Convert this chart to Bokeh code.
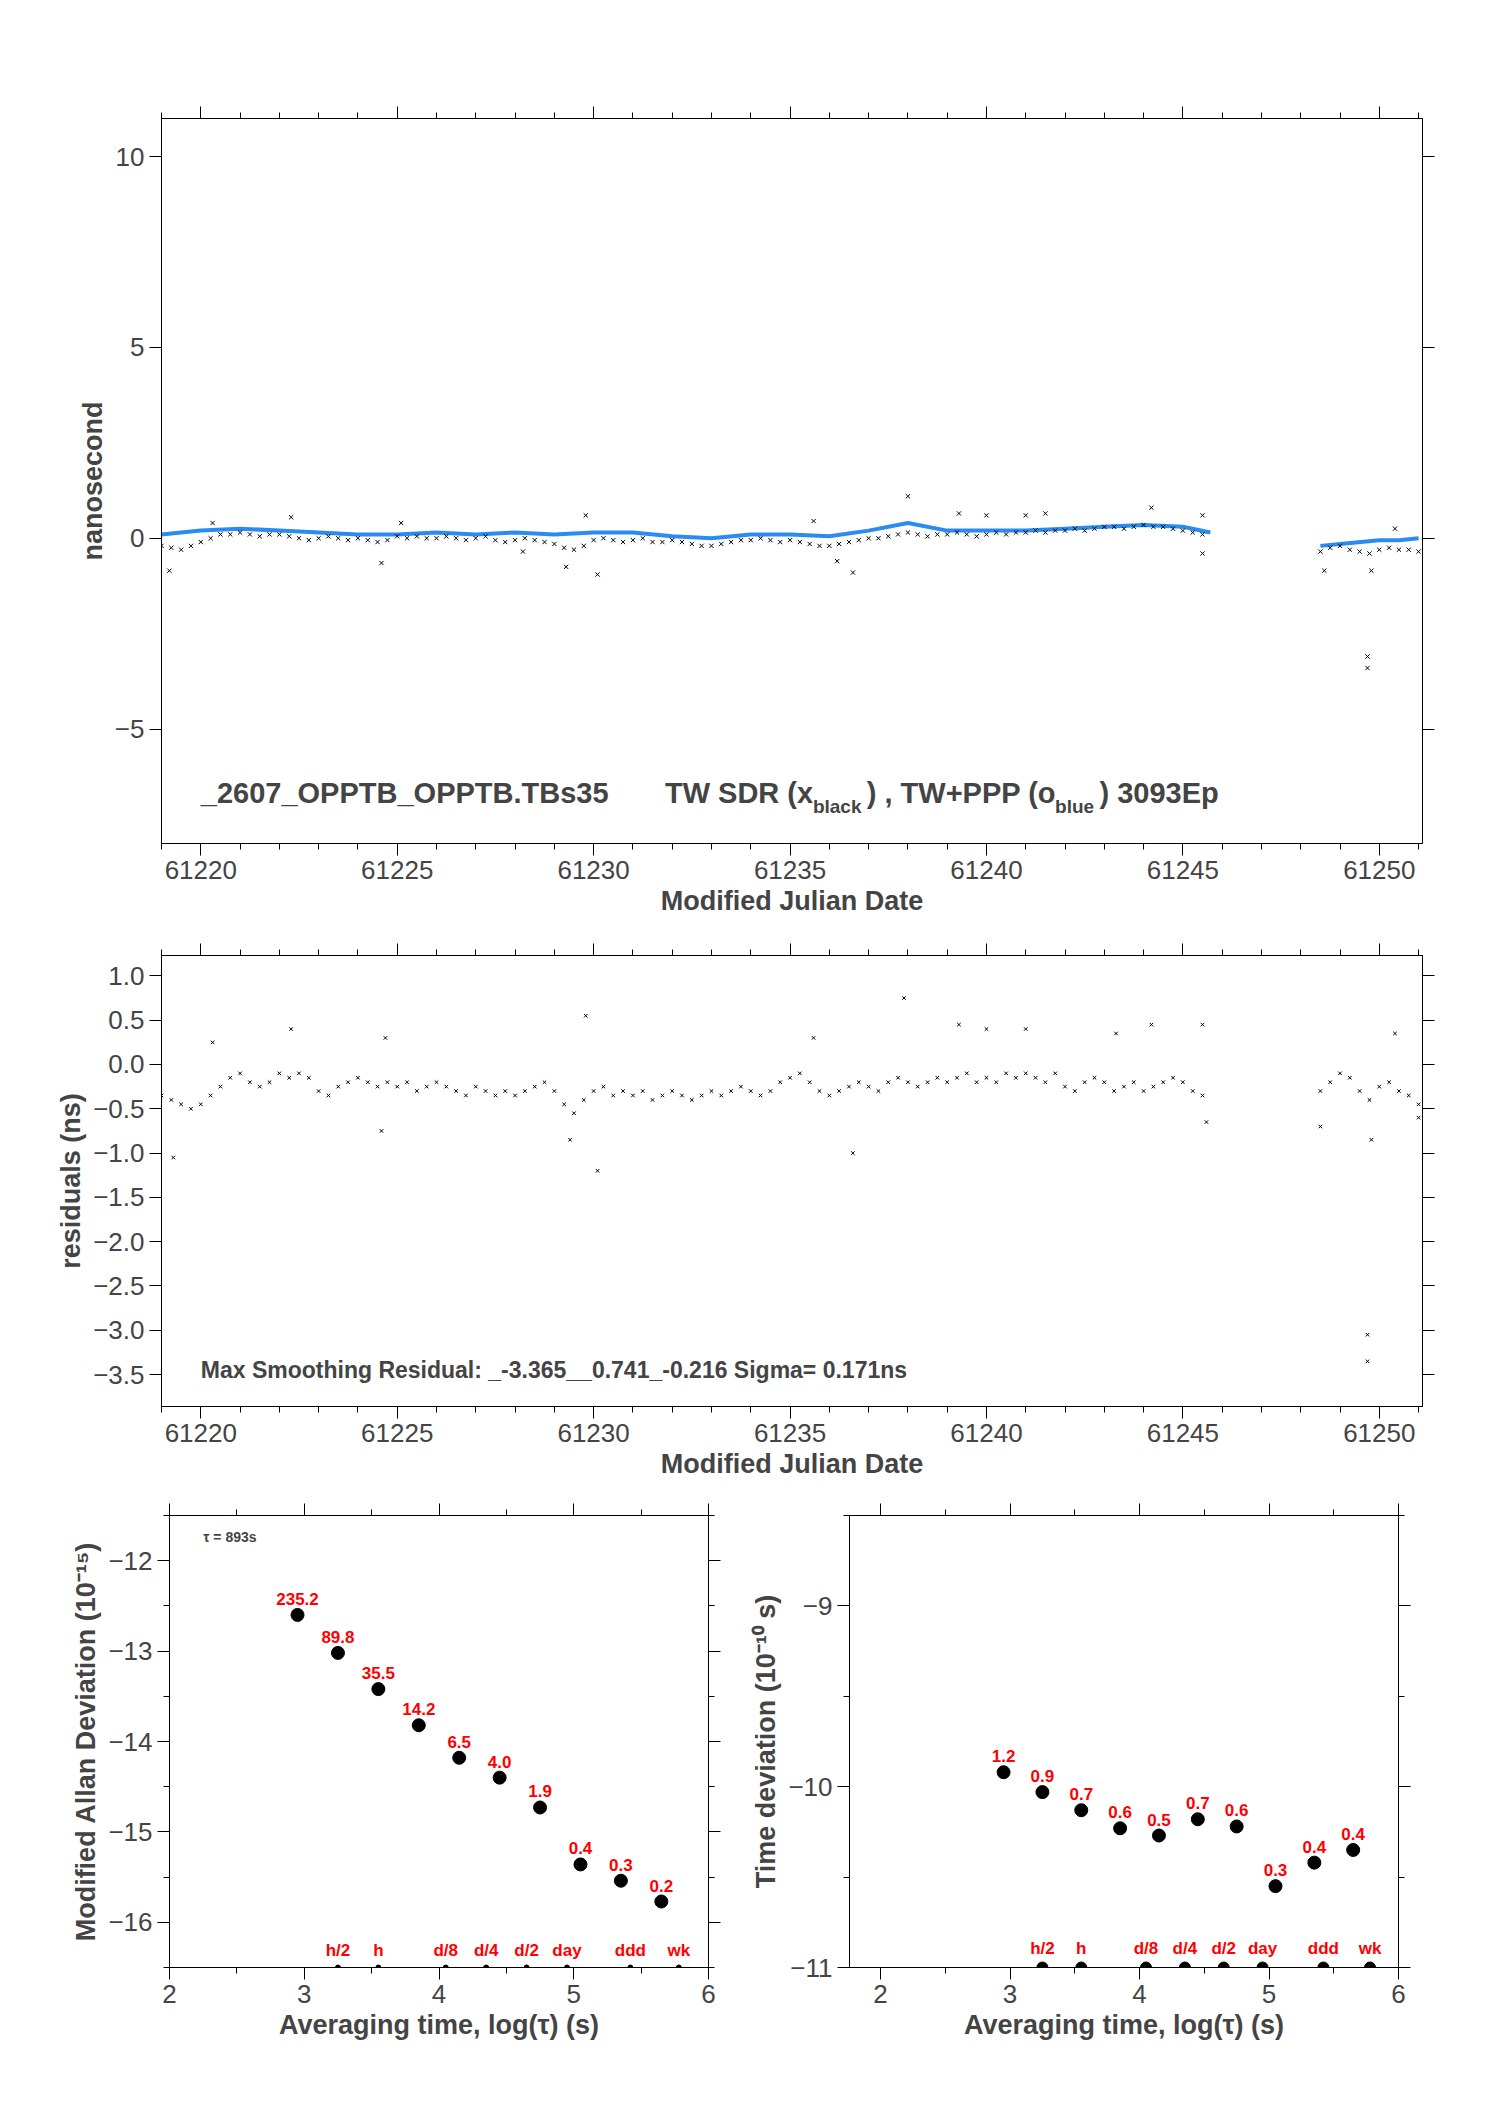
import numpy as np
from bokeh.core.properties import value
from bokeh.embed import file_html
from bokeh.layouts import column, row
from bokeh.models import Label, LinearAxis, Range1d, FixedTicker, CustomJSTickFormatter
from bokeh.plotting import figure
from bokeh.resources import INLINE

FONT = "Liberation Sans"

# TW SDR (black x), sampled every 0.25 d
sdr_start_a = 61219.0
sdr_a = [-0.2, -0.25, -0.3, -0.2, -0.1, 0.0, 0.1, 0.1, 0.15, 0.1, 0.05, 0.1,
         0.1, 0.05, 0.0, -0.05, 0.0, 0.05, 0.0, -0.05, 0.0, -0.05, -0.1, -0.05,
         0.05, 0.0, 0.05, 0.0, 0.0, 0.05, 0.0, -0.05, 0.0, 0.05, -0.05, -0.1,
         -0.05, 0.0, -0.05, -0.1, -0.15, -0.25, -0.3, -0.2, -0.05, 0.0, -0.05, -0.1,
         -0.05, 0.0, -0.1, -0.1, -0.05, -0.1, -0.15, -0.2, -0.2, -0.15, -0.1, -0.05,
         -0.05, 0.0, -0.05, -0.1, -0.05, -0.1, -0.15, -0.2, -0.2, -0.15, -0.1, -0.05,
         0.0, 0.0, 0.05, 0.1, 0.15, 0.1, 0.05, 0.1, 0.1, 0.15, 0.1, 0.05,
         0.1, 0.15, 0.1, 0.15, 0.15, 0.2, 0.15, 0.2, 0.2, 0.25, 0.2, 0.25,
         0.3, 0.3, 0.25, 0.3, 0.35, 0.3, 0.3, 0.25, 0.2, 0.15, 0.1]
sdr_start_b = 61248.5
sdr_b = [-0.35, -0.25, -0.2, -0.3, -0.35, -0.4, -0.3, -0.25, -0.3, -0.3, -0.35]
sdr_out_x = [61219.2, 61220.3, 61222.3, 61224.6, 61225.1, 61228.2, 61229.3, 61229.8,
             61230.1, 61235.6, 61236.6, 61236.2, 61238.0, 61239.3, 61240.0, 61241.0,
             61241.5, 61244.2, 61245.5, 61245.5, 61249.7, 61249.7, 61249.8, 61250.4, 61248.6]
sdr_out_y = [-0.85, 0.4, 0.55, -0.65, 0.4, -0.35, -0.75, 0.6, -0.95, 0.45, -0.9, -0.6,
             1.1, 0.65, 0.6, 0.6, 0.65, 0.8, 0.6, -0.4, -3.1, -3.4, -0.85, 0.25, -0.85]

# TW+PPP (blue)
ppp_x_a = [61219, 61220, 61221, 61222, 61223, 61224, 61225, 61226, 61227, 61228,
           61229, 61230, 61231, 61232, 61233, 61234, 61235, 61236, 61237, 61238,
           61239, 61240, 61241, 61242, 61243, 61244, 61245, 61245.7]
ppp_a = [0.1, 0.2, 0.25, 0.2, 0.15, 0.1, 0.1, 0.15, 0.1, 0.15, 0.1, 0.15, 0.15, 0.05,
         0.0, 0.1, 0.1, 0.05, 0.2, 0.4, 0.2, 0.2, 0.2, 0.25, 0.3, 0.35, 0.3, 0.15]
ppp_x_b = [61248.5, 61249, 61250, 61250.5, 61251]
ppp_b = [-0.2, -0.15, -0.05, -0.05, 0.0]

# residuals, every 0.25 d
res_a = [-0.35, -0.4, -0.45, -0.5, -0.45, -0.35, -0.25, -0.15, -0.1, -0.2, -0.25, -0.2,
         -0.1, -0.15, -0.1, -0.15, -0.3, -0.35, -0.25, -0.2, -0.15, -0.2, -0.25, -0.2,
         -0.25, -0.2, -0.3, -0.25, -0.2, -0.25, -0.3, -0.35, -0.25, -0.3, -0.35, -0.3,
         -0.35, -0.3, -0.25, -0.2, -0.3, -0.45, -0.55, -0.4, -0.3, -0.25, -0.35, -0.3,
         -0.35, -0.3, -0.4, -0.35, -0.3, -0.35, -0.4, -0.35, -0.3, -0.35, -0.3, -0.25,
         -0.3, -0.35, -0.3, -0.2, -0.15, -0.1, -0.2, -0.3, -0.35, -0.3, -0.25, -0.2,
         -0.25, -0.3, -0.2, -0.15, -0.2, -0.25, -0.2, -0.15, -0.2, -0.15, -0.1, -0.2,
         -0.15, -0.2, -0.1, -0.15, -0.1, -0.15, -0.2, -0.1, -0.25, -0.3, -0.2, -0.15,
         -0.2, -0.3, -0.25, -0.2, -0.3, -0.25, -0.2, -0.15, -0.2, -0.3, -0.35]
res_b = [-0.3, -0.2, -0.1, -0.15, -0.3, -0.4, -0.25, -0.2, -0.3, -0.35, -0.45]
res_out_x = [61219.3, 61220.3, 61222.3, 61224.6, 61224.7, 61229.8, 61230.1, 61229.4,
             61235.6, 61236.6, 61237.9, 61239.3, 61240.0, 61241.0, 61243.3, 61244.2,
             61245.5, 61245.6, 61249.7, 61249.7, 61249.8, 61250.4, 61248.5, 61251.0]
res_out_y = [-1.05, 0.25, 0.4, -0.75, 0.3, 0.55, -1.2, -0.85, 0.3, -1.0, 0.75, 0.45,
             0.4, 0.4, 0.35, 0.45, 0.45, -0.65, -3.05, -3.35, -0.85, 0.35, -0.7, -0.6]

# stability
log_tau = [2.95, 3.25, 3.55, 3.85, 4.15, 4.45, 4.75, 5.05, 5.35, 5.65]
mdev = [-12.6, -13.02, -13.42, -13.82, -14.18, -14.4, -14.73, -15.36, -15.54, -15.77]
mdev_lbl = ["235.2", "89.8", "35.5", "14.2", "6.5", "4.0", "1.9", "0.4", "0.3", "0.2"]
tdev = [-9.92, -10.03, -10.13, -10.23, -10.27, -10.18, -10.22, -10.55, -10.42, -10.35]
tdev_lbl = ["1.2", "0.9", "0.7", "0.6", "0.5", "0.7", "0.6", "0.3", "0.4", "0.4"]
mark_x = [3.25, 3.55, 4.05, 4.35, 4.65, 4.95, 5.42, 5.78]
mark_lbl = ["h/2", "h", "d/8", "d/4", "d/2", "day", "ddd", "wk"]


def style(p, xticks, yticks, xminor, yminor, label_size="26px"):
    p.grid.visible = False
    p.outline_line_color = "black"
    p.add_layout(LinearAxis(), "above")
    p.add_layout(LinearAxis(), "right")
    for ax in p.axis:
        ax.major_tick_out = 12
        ax.major_tick_in = 0
        ax.minor_tick_out = 6
        ax.minor_tick_in = 0
        ax.axis_line_color = "black"
        ax.major_label_text_font = FONT
        ax.major_label_text_font_size = label_size
        ax.axis_label_text_font = FONT
        ax.axis_label_text_font_style = "bold"
        ax.axis_label_text_font_size = "27px"
        ax.axis_label_standoff = 4
    for ax in p.xaxis:
        ax.ticker = FixedTicker(ticks=xticks, minor_ticks=xminor)
    for ax in p.yaxis:
        ax.ticker = FixedTicker(ticks=yticks, minor_ticks=yminor)
    p.above[0].major_label_text_color = None
    p.right[0].major_label_text_color = None


def fig(w, h, xr, yr, bl, bt, br, bb):
    return figure(width=w, height=h, x_range=Range1d(*xr), y_range=Range1d(*yr),
                  output_backend="svg", toolbar_location=None,
                  min_border_left=bl, min_border_top=bt, min_border_right=br,
                  min_border_bottom=bb)


mjd_major = list(range(61220, 61251, 5))
mjd_minor = list(range(61219, 61252))

# top panel
p1 = fig(1480, 943, (61219.0, 61251.1), (-8, 11), 161, 118, 58, 100)
xa = sdr_start_a + 0.25 * np.arange(len(sdr_a))
xb = sdr_start_b + 0.25 * np.arange(len(sdr_b))
p1.line(ppp_x_a, ppp_a, line_color="#2a8cf0", line_width=4)
p1.line(ppp_x_b, ppp_b, line_color="#2a8cf0", line_width=4)
p1.scatter(list(xa) + list(xb), sdr_a + sdr_b, marker="x", size=6, color="black", line_width=1)
p1.scatter(sdr_out_x, sdr_out_y, marker="x", size=6, color="black", line_width=1)
style(p1, mjd_major, [-5, 0, 5, 10], mjd_minor, [])
p1.below[0].axis_label = "Modified Julian Date"
p1.left[0].axis_label = "nanosecond"


def mjd(tx):
    return 61220 + (tx - 150) / 29.2


for tx, txt, sub in [(150, "_2607_OPPTB_OPPTB.TBs35", False), (495, "TW SDR (x", False),
                     (605, "black", True), (645, ") ,  TW+PPP (o", False),
                     (785, "blue", True), (818, ")  3093Ep", False)]:
    p1.add_layout(Label(x=mjd(tx), y=-7.3 if sub else -7.1, text=txt,
                        text_font=FONT, text_font_style="bold",
                        text_font_size="19px" if sub else "29px"))

minus = CustomJSTickFormatter(code="return tick.toFixed(1).replace('-', '\u2212');")

# middle panel
p2 = fig(1480, 553, (61219.0, 61251.1), (-3.86, 1.23), 161, 10, 58, 90)
p2.scatter(list(xa) + list(xb), res_a + res_b, marker="x", size=5, color="black", line_width=1)
p2.scatter(res_out_x, res_out_y, marker="x", size=5, color="black", line_width=1)
style(p2, mjd_major, [-3.5, -3, -2.5, -2, -1.5, -1, -0.5, 0, 0.5, 1.0], mjd_minor, [])
p2.left[0].formatter = minus
p2.below[0].axis_label = "Modified Julian Date"
p2.left[0].axis_label = "residuals (ns)"
p2.add_layout(Label(x=mjd(150), y=-3.6, text="Max Smoothing Residual: _-3.365__0.741_-0.216  Sigma= 0.171ns",
                    text_font=FONT, text_font_style="bold", text_font_size="23px"))

# bottom left: MDEV
p3 = fig(725, 570, (2, 6), (-16.5, -11.5), 169, 19, 17, 99)
p3.scatter(log_tau, mdev, size=13, color="black")
p3.text(log_tau, mdev, text=mdev_lbl, text_color="red", text_font=value(FONT),
        text_font_style="bold", text_font_size="17px", text_align="center",
        text_baseline="bottom", y_offset=-10)
p3.scatter(mark_x, [-16.5] * len(mark_x), size=5, color="black")
p3.text(mark_x, [-16.5] * len(mark_x), text=mark_lbl, text_color="red", text_font=value(FONT),
        text_font_style="bold", text_font_size="17px", text_align="center",
        text_baseline="bottom", y_offset=-8)
style(p3, [2, 3, 4, 5, 6], [-16, -15, -14, -13, -12], [2.5, 3.5, 4.5, 5.5],
      [-16.5, -15.5, -14.5, -13.5, -12.5, -11.5])
p3.below[0].axis_label = "Averaging time, log(τ) (s)"
p3.left[0].axis_label = "Modified Allan Deviation (10⁻¹⁵)"
p3.add_layout(Label(x=2.25, y=-11.83, text="τ = 893s", text_font=FONT,
                    text_font_style="bold", text_font_size="14px"))

# bottom right: TDEV
p4 = fig(721, 570, (1.76, 6), (-11, -8.5), 124, 19, 48, 99)
p4.scatter(log_tau, tdev, size=13, color="black")
p4.text(log_tau, tdev, text=tdev_lbl, text_color="red", text_font=value(FONT),
        text_font_style="bold", text_font_size="17px", text_align="center",
        text_baseline="bottom", y_offset=-10)
p4.scatter(mark_x, [-11] * len(mark_x), size=11, color="black")
p4.text(mark_x, [-11] * len(mark_x), text=mark_lbl, text_color="red", text_font=value(FONT),
        text_font_style="bold", text_font_size="17px", text_align="center",
        text_baseline="bottom", y_offset=-10)
style(p4, [2, 3, 4, 5, 6], [-11, -10, -9], [2.5, 3.5, 4.5, 5.5], [-10.5, -9.5, -8.5])
p4.below[0].axis_label = "Averaging time, log(τ) (s)"
p4.left[0].axis_label = "Time deviation (10⁻¹⁰ s)"

page = column(p1, p2, row(p3, p4))
open("out.html", "w").write(file_html(page, INLINE))
